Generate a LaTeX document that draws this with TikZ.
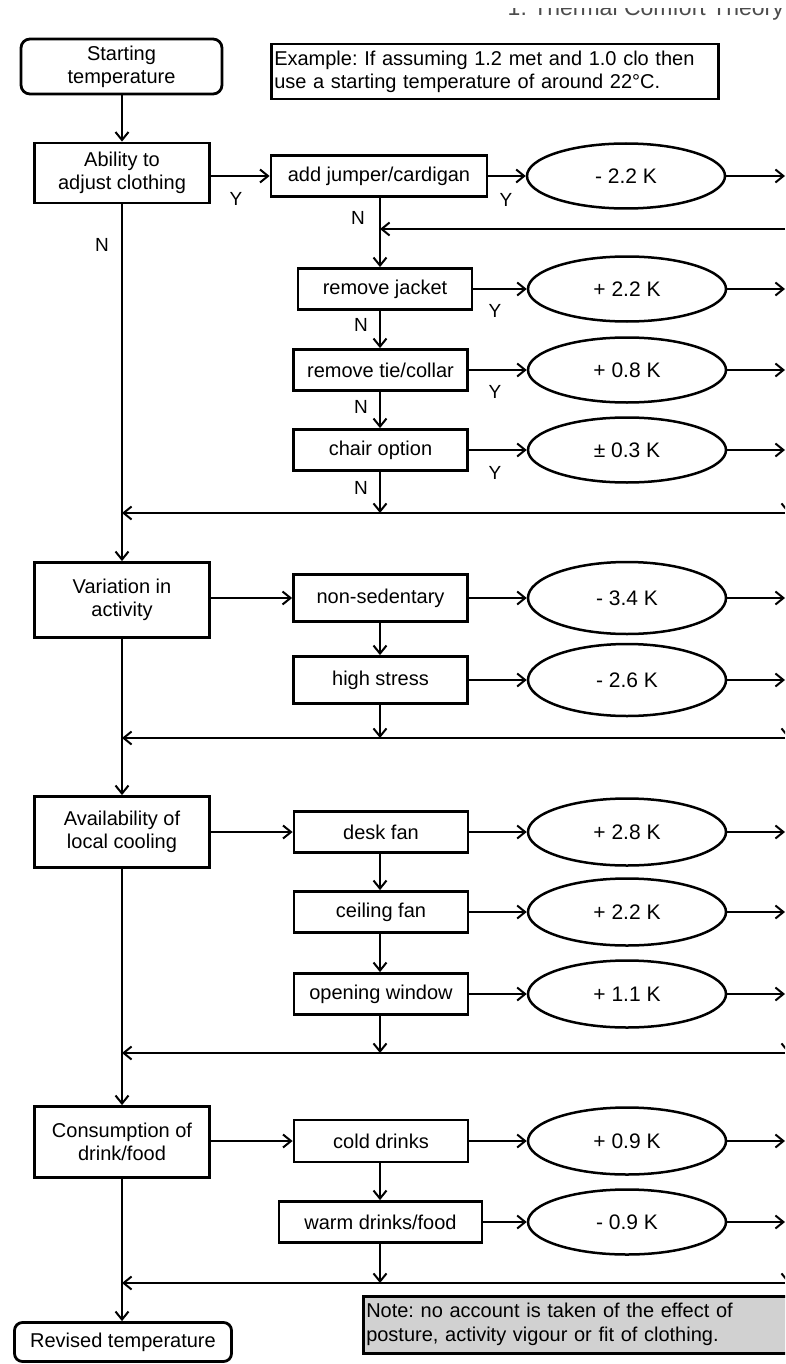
\documentclass[tikz,border=0pt]{standalone}
\usepackage{fontspec}
\setmainfont{Liberation Sans}
\usetikzlibrary{arrows.meta,shapes.geometric}
\frenchspacing
\begin{document}
\begin{tikzpicture}[x=1pt,y=-1pt,
  every node/.style={font=\fontsize{20}{23}\selectfont},
  box/.style={draw,line width=2.8pt,inner sep=2pt,align=center},
  mainbox/.style={box,minimum width=175pt,minimum height=71pt},
  subbox/.style={box,minimum width=174pt,minimum height=41pt},
  res/.style={draw,ellipse,line width=2.5pt,minimum width=198pt,minimum height=65pt,inner sep=0pt,font=\fontsize{21}{24}\selectfont},
  arr/.style={line width=2.5pt,-{Straight Barb[length=8pt,width=13pt,line width=2pt]}},
  lab/.style={font=\fontsize{19}{22}\selectfont,inner sep=0pt}
]
\useasboundingbox (0,0) rectangle (785,1364);
\clip (0,0) rectangle (785,1364);

% header (cut off in the scan)
\begin{scope}
\clip (470,9) rectangle (785,30);
\node[anchor=base east,font=\fontsize{23}{26}\selectfont,text=black!70,inner sep=0pt] (hdr) at (784,16) {1. Thermal Comfort Theory};
\end{scope}

% column coordinates
\coordinate (L) at (122,0);
\coordinate (C) at (380,0);
\coordinate (R) at (785,0);
\coordinate (RV) at (788,0);

% top
\node[box,rounded corners=9pt,minimum width=201pt,minimum height=55pt] (start) at (121.5,66.5) {Starting\\temperature};
\node[box,line width=2.5pt,anchor=north west,minimum height=55pt,text width=441pt,align=left,inner sep=3pt] (ex) at (270,43) {Example: If assuming 1.2 met and 1.0 clo then\\use a starting temperature of around 22°C.};

% clothing section
\node[mainbox,minimum height=60pt] (abil) at (122,173) {Ability to\\adjust clothing};
\node[subbox,minimum width=216pt] (jump) at (379,176) {add jumper/cardigan};
\node[res] (e1) at (626,176) {- 2.2 K};
\node[subbox] (jacket) at (385,289) {remove jacket};
\node[res] (e2) at (627,289) {+ 2.2 K};
\node[subbox] (tie) at (380.5,370) {remove tie/collar};
\node[res] (e3) at (627,370) {+ 0.8 K};
\node[subbox] (chair) at (380.5,450) {chair option};
\node[res] (e4) at (627,450) {± 0.3 K};

\node[lab] (y1) at (236,199) {Y};
\node[lab] (y2) at (506,200) {Y};
\node[lab] (n1) at (358,218) {N};
\node[lab] (n0) at (102,245) {N};
\node[lab] (y3) at (495,311) {Y};
\node[lab] (y4) at (495,392) {Y};
\node[lab] (y5) at (495,473) {Y};
\node[lab] (n2) at (361,325) {N};
\node[lab] (n3) at (361,407) {N};
\node[lab] (n4) at (361,488) {N};

\coordinate (m0) at (380,229);
\coordinate (m1) at (380,513);
\draw[arr] (start.south -| L) -- (abil.north -| L);
\draw[arr] (abil.east |- jump.west) -- (jump.west);
\draw[arr] (jump.east) -- (e1.west);
\draw[arr] (e1.east) -- (e1.east -| R);
\draw[line width=2.5pt] (jump.south -| C) -- (m0);
\draw[arr] (m0 -| R) -- (m0);
\draw[arr] (m0) -- (jacket.north -| C);
\draw[arr] (jacket.east) -- (e2.west);
\draw[arr] (e2.east) -- (e2.east -| R);
\draw[arr] (jacket.south -| C) -- (tie.north -| C);
\draw[arr] (tie.east) -- (e3.west);
\draw[arr] (e3.east) -- (e3.east -| R);
\draw[arr] (tie.south -| C) -- (chair.north -| C);
\draw[arr] (chair.east) -- (e4.west);
\draw[arr] (e4.east) -- (e4.east -| R);
\draw[arr] (chair.south -| C) -- (m1);
\draw[arr] (m1 -| R) -- (m1 -| L);
\draw[arr] (e1.east -| RV) -- (m1 -| RV);

% activity section
\node[mainbox,minimum height=75pt] (var) at (122,600) {Variation in\\activity};
\node[subbox,minimum height=47pt] (nonsed) at (380.5,598) {non-sedentary};
\node[res,minimum height=72pt] (e5) at (627,598) {- 3.4 K};
\node[subbox,minimum height=47pt] (stress) at (380.5,680) {high stress};
\node[res,minimum height=72pt] (e6) at (627,680) {- 2.6 K};
\coordinate (m2) at (380,738);
\draw[arr] (abil.south -| L) -- (var.north -| L);
\draw[arr] (var.east |- nonsed.west) -- (nonsed.west);
\draw[arr] (nonsed.east) -- (e5.west);
\draw[arr] (e5.east) -- (e5.east -| R);
\draw[arr] (nonsed.south -| C) -- (stress.north -| C);
\draw[arr] (stress.east) -- (e6.west);
\draw[arr] (e6.east) -- (e6.east -| R);
\draw[arr] (stress.south -| C) -- (m2);
\draw[arr] (m2 -| R) -- (m2 -| L);
\draw[arr] (e5.east -| RV) -- (m2 -| RV);

% cooling section
\node[mainbox] (avail) at (122,832) {Availability of\\local cooling};
\node[subbox] (desk) at (381,832) {desk fan};
\node[res,minimum height=67pt] (e7) at (627,832) {+ 2.8 K};
\node[subbox] (ceil) at (381,912) {ceiling fan};
\node[res,minimum height=67pt] (e8) at (627,912) {+ 2.2 K};
\node[subbox] (window) at (381,994) {opening window};
\node[res,minimum height=67pt] (e9) at (627,994) {+ 1.1 K};
\coordinate (m3) at (380,1053);
\draw[arr] (var.south -| L) -- (avail.north -| L);
\draw[arr] (avail.east |- desk.west) -- (desk.west);
\draw[arr] (desk.east) -- (e7.west);
\draw[arr] (e7.east) -- (e7.east -| R);
\draw[arr] (desk.south -| C) -- (ceil.north -| C);
\draw[arr] (ceil.east) -- (e8.west);
\draw[arr] (e8.east) -- (e8.east -| R);
\draw[arr] (ceil.south -| C) -- (window.north -| C);
\draw[arr] (window.east) -- (e9.west);
\draw[arr] (e9.east) -- (e9.east -| R);
\draw[arr] (window.south -| C) -- (m3);
\draw[arr] (m3 -| R) -- (m3 -| L);
\draw[arr] (e7.east -| RV) -- (m3 -| RV);

% drink/food section
\node[mainbox] (cons) at (122,1142) {Consumption of\\drink/food};
\node[subbox,minimum height=42pt] (cold) at (381,1141) {cold drinks};
\node[res,minimum height=67pt] (e10) at (627,1141) {+ 0.9 K};
\node[subbox,minimum width=203pt] (warm) at (380.5,1222) {warm drinks/food};
\node[res,minimum height=65pt] (e11) at (627,1222) {- 0.9 K};
\coordinate (m4) at (380,1283);
\draw[arr] (avail.south -| L) -- (cons.north -| L);
\draw[arr] (cons.east |- cold.west) -- (cold.west);
\draw[arr] (cold.east) -- (e10.west);
\draw[arr] (e10.east) -- (e10.east -| R);
\draw[arr] (cold.south -| C) -- (warm.north -| C);
\draw[arr] (warm.east) -- (e11.west);
\draw[arr] (e11.east) -- (e11.east -| R);
\draw[arr] (warm.south -| C) -- (m4);
\draw[arr] (m4 -| R) -- (m4 -| L);
\draw[arr] (e10.east -| RV) -- (m4 -| RV);

% end
\node[box,rounded corners=8pt,minimum width=217pt,minimum height=39pt] (rev) at (123,1342) {Revised temperature};
\draw[arr] (cons.south -| L) -- (rev.north -| L);
\node[draw,line width=2.5pt,fill=black!18,anchor=north west,minimum height=57pt,text width=418pt,align=left,inner sep=3pt,font=\fontsize{20}{24}\selectfont] (note) at (362,1295) {Note: no account is taken of the effect of\\posture, activity vigour or fit of clothing.};
\end{tikzpicture}
\end{document}
